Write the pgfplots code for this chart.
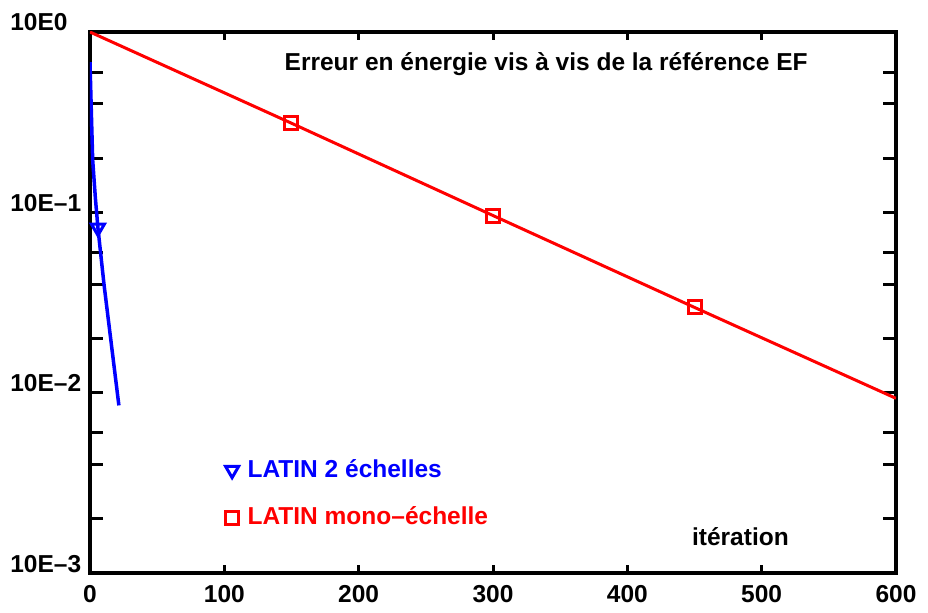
\documentclass[border=0pt]{standalone}
\usepackage{pgfplots}
\pgfplotsset{compat=1.18}
\usepackage{fontspec}
\setmainfont{Liberation Sans}
\newcommand{\ff}{\fontsize{24.5bp}{29bp}\selectfont\bfseries}
\begin{document}
\ff
\begin{tikzpicture}
\path[use as bounding box] (-90bp,-40bp) rectangle (838bp,573bp);
\begin{axis}[
  at={(0,0)}, anchor=south west,
  scale only axis, width=806bp, height=541bp,
  xmin=0, xmax=600, ymode=log, ymin=1e-3, ymax=1,
  xtick={0,100,200,300,400,500,600},
  xticklabels={0,100,200,300,400,500,600},
  ytick={0.001,0.01,0.1,1},
  yticklabels={10E–3,10E–2,10E–1,10E0},
  minor ytick={0.002,0.004,0.006,0.02,0.04,0.06,0.2,0.4,0.6},
  tick align=inside,
  axis line style={line width=4bp, black},
  tick style={line width=3bp, black},
  major tick length=13bp, minor tick length=13bp,
  xtick style={/pgfplots/major tick length=8bp},
  xticklabel style={yshift=-4bp, font=\ff},
  yticklabel style={anchor=base west, xshift=-88bp, yshift=1bp, font=\ff},
  /pgf/number format/assume math mode=true,
  legend style={at={(rel axis cs:0.168,0.146)}, anchor=west, draw=none, fill=none,
    row sep=22bp, column sep=7bp, inner sep=0pt, font=\ff},
  legend cell align=left,
]
\addlegendimage{only marks, blue, mark=triangle, mark size=7.5bp, mark options={rotate=180, line width=3bp, fill=none}}
\addlegendentry{\textcolor{blue}{LATIN 2 échelles}}
\addlegendimage{only marks, red, mark=square, mark size=6.5bp, mark options={line width=3bp, fill=none}}
\addlegendentry{\textcolor{red}{LATIN mono–échelle}}
\addplot[forget plot, blue, line width=3.5bp, mark=triangle, mark size=7.5bp, mark indices={5},
  mark options={rotate=180, line width=3bp, fill=none}]
  coordinates {(0,0.68) (1,0.36) (2,0.195) (4,0.12) (5.9,0.082) (10.4,0.040) (16,0.0183) (21.5,0.0085)};
\addplot[forget plot, red, line width=3bp, mark=square, mark size=6.5bp, mark indices={2,3,4},
  mark options={line width=3bp, fill=none}]
  coordinates {(0,1.0) (150,0.312) (300,0.096) (450,0.0297) (600,0.0093)};
\node[anchor=base, font=\ff] at (rel axis cs:0.566,0.928) {Erreur en énergie vis à vis de la référence EF};
\node[anchor=base, font=\ff] at (rel axis cs:0.807,0.050) {itération};
\end{axis}
\end{tikzpicture}
\end{document}
